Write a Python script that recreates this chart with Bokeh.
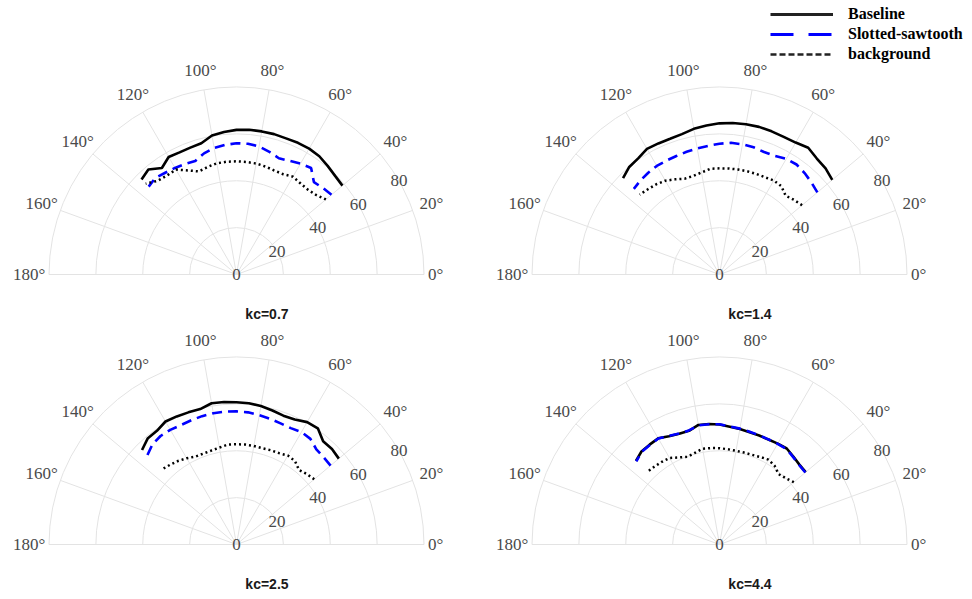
import numpy as np
from bokeh.plotting import figure
from bokeh.layouts import gridplot
from bokeh.models import Range1d, Legend, LegendItem
from bokeh.core.properties import value
from bokeh.embed import file_html
from bokeh.resources import INLINE

# ---------------- data ----------------
angles_deg = [40, 45, 50, 55, 60, 65, 70, 75, 80, 85, 90, 95, 100, 105, 110, 115, 120, 125, 130, 135]

r_ticks = [0, 20, 40, 60, 80]
r_tick_labels = ["0", "20", "40", "60", "80"]
theta_ticks = [0, 20, 40, 60, 80, 100, 120, 140, 160, 180]
theta_tick_labels = ["0°", "20°", "40°", "60°", "80°", "100°", "120°", "140°", "160°", "180°"]

panel_titles = ["kc=0.7", "kc=1.4", "kc=2.5", "kc=4.4"]
series_names = ["Baseline", "Slotted-sawtooth", "background"]

baseline_07 = [59.0, 59.5, 60.5, 61.6, 62.0, 62.0, 61.8, 62.0, 62.0, 62.0, 61.7, 61.0, 60.2, 58.0, 57.6, 57.5, 57.9, 55.5, 58.5, 57.3]
slotted_07 = [52.9, 52.2, 51.4, 55.5, 54.6, 53.5, 52.8, 54.2, 55.5, 56.0, 56.0, 55.5, 54.8, 53.5, 51.5, 52.0, 52.5, 53.0, 53.8, 53.0]
background_07 = [49.8, 48.0, 47.3, 47.5, 48.2, 47.2, 47.2, 47.7, 48.1, 48.2, 48.3, 48.3, 48.2, 47.5, 46.8, 49.0, 51.7, 51.6, 52.2, 54.8]

baseline_14 = [62.8, 64.0, 64.6, 66.0, 65.0, 64.8, 65.0, 65.2, 65.1, 64.9, 64.5, 63.8, 63.1, 62.0, 61.6, 61.7, 61.9, 60.5, 59.9, 58.2]
slotted_14 = [54.5, 55.5, 56.5, 57.3, 57.0, 55.8, 55.6, 56.2, 56.4, 56.4, 55.8, 55.1, 54.6, 54.2, 53.8, 53.6, 53.5, 53.0, 52.4, 51.7]
background_14 = [46.0, 45.0, 43.9, 46.0, 46.3, 45.8, 45.7, 45.6, 45.5, 45.4, 45.3, 45.3, 44.2, 43.5, 43.5, 44.8, 46.2, 47.0, 47.5, 48.2]

baseline_25 = [57.0, 57.6, 57.5, 60.5, 60.3, 58.8, 58.5, 59.2, 60.0, 60.5, 60.7, 61.0, 61.2, 59.8, 60.0, 60.3, 60.6, 59.2, 59.0, 57.0]
slotted_25 = [52.4, 52.6, 53.0, 55.0, 55.4, 54.8, 55.0, 55.5, 56.0, 56.6, 56.8, 56.9, 56.9, 56.7, 56.4, 56.2, 56.5, 56.5, 55.8, 53.8]
background_25 = [43.3, 42.5, 41.5, 43.5, 43.8, 43.0, 42.8, 42.5, 42.7, 42.8, 42.8, 42.8, 42.0, 41.5, 41.3, 41.4, 42.5, 43.5, 44.3, 45.2]

baseline_44 = [48.0, 48.2, 49.0, 50.0, 49.7, 49.4, 49.5, 49.6, 50.0, 50.4, 51.2, 51.6, 51.8, 50.2, 50.3, 51.0, 52.3, 52.0, 51.8, 50.4]
slotted_44 = [47.8, 48.0, 48.8, 49.8, 49.6, 49.5, 49.6, 49.8, 50.2, 50.6, 51.3, 51.5, 51.6, 50.4, 50.4, 51.1, 52.2, 51.8, 51.6, 50.2]
background_44 = [41.4, 40.0, 39.2, 41.0, 41.8, 41.2, 40.7, 40.6, 40.6, 40.8, 41.1, 41.3, 41.5, 40.5, 39.8, 41.0, 42.6, 43.0, 43.3, 43.7]

panels_data = [
    (baseline_07, slotted_07, background_07),
    (baseline_14, slotted_14, background_14),
    (baseline_25, slotted_25, background_25),
    (baseline_44, slotted_44, background_44),
]

# ---------------- layout / style ----------------
PX_PER_UNIT = 187.5 / 80.0
R_MAX = 80
# (width, height, center_x_px, center_y_px) for each panel figure
panel_boxes = [(486, 325, 236, 274), (485, 325, 233, 274),
               (486, 273, 236, 219), (485, 273, 233, 219)]

GRID_COLOR = "#e3e3e3"
TICK_COLOR = "#4a4a4a"
TICK_FONT = "Liberation Serif"
TICK_SIZE = "17px"
BLUE = "#0000ff"
LABEL_R = 88.5


def polar_xy(r, deg):
    t = np.deg2rad(np.asarray(deg, dtype=float))
    r = np.asarray(r, dtype=float)
    return r * np.cos(t), r * np.sin(t)


def make_panel(idx):
    w, h, cx, cy = panel_boxes[idx]
    p = figure(width=w, height=h,
               x_range=Range1d(-cx / PX_PER_UNIT, (w - cx) / PX_PER_UNIT),
               y_range=Range1d(-(h - cy) / PX_PER_UNIT, cy / PX_PER_UNIT),
               x_axis_type=None, y_axis_type=None, title=None,
               output_backend="svg", toolbar_location=None,
               min_border=0, outline_line_color=None,
               background_fill_color="white", border_fill_color="white")

    # radial grid (half circles)
    p.arc(x=0, y=0, radius=r_ticks[1:], start_angle=0, end_angle=np.pi,
          line_color=GRID_COLOR, line_width=1)
    # angular spokes
    sx, sy = polar_xy([R_MAX] * len(theta_ticks), theta_ticks)
    p.segment(x0=0, y0=0, x1=sx, y1=sy, line_color=GRID_COLOR, line_width=1)

    # angle labels (0° label sits a little closer, as in the original)
    lr = [LABEL_R - 3.5 if t == 0 else LABEL_R for t in theta_ticks]
    lx, ly = polar_xy(lr, theta_ticks)
    p.text(x=lx, y=ly, text=theta_tick_labels, text_align="center",
           text_baseline="middle", text_font=value(TICK_FONT),
           text_font_size=TICK_SIZE, text_color=TICK_COLOR)
    # radial labels along 30 deg
    rx, ry = polar_xy(r_ticks, [30] * len(r_ticks))
    p.text(x=rx, y=ry, text=r_tick_labels, text_align="center",
           text_baseline="middle", text_font=value(TICK_FONT),
           text_font_size=TICK_SIZE, text_color=TICK_COLOR)

    base, slot, bg = panels_data[idx]
    ax, ay = polar_xy(base, angles_deg)
    p.line(ax, ay, line_color="black", line_width=2.6)
    sx2, sy2 = polar_xy(slot, angles_deg)
    p.line(sx2, sy2, line_color=BLUE, line_width=2.6, line_dash="10 6")
    bx, by = polar_xy(bg, angles_deg)
    p.line(bx, by, line_color="black", line_width=2.5, line_dash="2 3")

    # panel title
    p.text(x=[13], y=[-17], text=[panel_titles[idx]], text_align="center",
           text_baseline="middle", text_font=value("Liberation Sans"),
           text_font_style="bold", text_font_size="14px", text_color="#1a1a1a")
    return p


panels = [make_panel(i) for i in range(4)]

# legend in the top-right panel (legend-only renderers with a single NaN point)
ptr = panels[1]
lg_base = ptr.line([np.nan], [np.nan], line_color="#222222", line_width=3)
lg_slot = ptr.line([np.nan], [np.nan], line_color=BLUE, line_width=3, line_dash="23 15")
lg_bg = ptr.line([np.nan], [np.nan], line_color="#222222", line_width=2.5, line_dash="6 3")
legend = Legend(items=[LegendItem(label=series_names[0], renderers=[lg_base]),
                       LegendItem(label=series_names[1], renderers=[lg_slot]),
                       LegendItem(label=series_names[2], renderers=[lg_bg])],
                location=(284, 325 - 5 - 58), orientation="vertical",
                glyph_width=63, glyph_height=12, label_height=12,
                label_standoff=15, spacing=2, padding=0, margin=0,
                border_line_color=None, background_fill_alpha=0,
                label_text_font="Liberation Serif", label_text_font_style="bold",
                label_text_font_size="16px", label_text_color="black")
ptr.add_layout(legend)

grid = gridplot([[panels[0], panels[1]], [panels[2], panels[3]]],
                toolbar_location=None)

open("out.html", "w").write(file_html(grid, INLINE))
